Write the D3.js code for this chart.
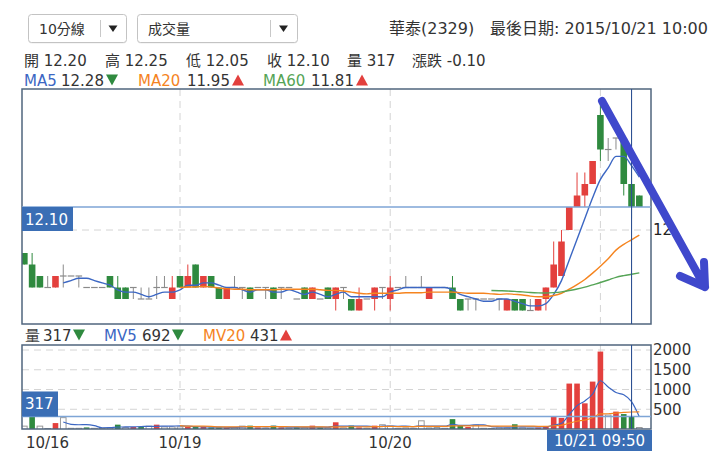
<!DOCTYPE html>
<html>
<head>
<meta charset="utf-8">
<script src="https://cdn.jsdelivr.net/npm/d3@7"></script>
<style>
  body { margin: 0; background: #fff; }
  svg { display: block; font-family: "DejaVu Sans", "Noto Sans CJK TC", sans-serif; }
</style>
</head>
<body>
<svg id="chart" width="720" height="462"></svg>
<script>
// ----------------------- DATA (10 min bars, 華泰 2329) -------------------------------
var days = ["10/16", "10/19", "10/20", "10/21"];
var dayStart = [-7, 20, 47, 74];          // bar index of the first bar of each day

var opens = [11.90,11.85,11.80,11.75,11.75,11.80,11.80,11.80,11.75,11.75,
             11.75,11.80,11.75,11.75,11.75,11.70,11.70,11.75,11.75,11.70,
             11.80,11.75,11.85,11.75,11.80,11.75,11.70,11.75,11.75,11.75,
             11.75,11.75,11.75,11.75,11.75,11.70,11.75,11.70,11.70,11.75,
             11.70,11.75,11.70,11.65,11.70,11.70,11.75,11.70,11.75,11.75,
             11.75,11.75,11.70,11.75,11.75,11.75,11.70,11.70,11.70,11.70,
             11.70,11.70,11.65,11.70,11.70,11.65,11.65,11.70,11.75,11.80,
             12.00,12.10,12.15,12.20,12.50,12.35,12.40,12.40,12.20,12.15];
var highs = [11.90,11.90,11.80,11.80,11.80,11.85,11.80,11.80,11.75,11.75,
             11.75,11.80,11.80,11.75,11.75,11.75,11.75,11.80,11.80,11.80,
             11.80,11.85,11.85,11.80,11.80,11.75,11.75,11.80,11.75,11.75,
             11.75,11.75,11.75,11.75,11.75,11.70,11.75,11.75,11.70,11.75,
             11.75,11.75,11.70,11.75,11.70,11.75,11.75,11.80,11.75,11.80,
             11.75,11.80,11.75,11.75,11.75,11.80,11.70,11.70,11.70,11.70,
             11.70,11.70,11.70,11.70,11.70,11.70,11.70,11.75,11.95,12.00,
             12.10,12.25,12.25,12.30,12.55,12.40,12.40,12.40,12.25,12.15];
var lows = [11.85,11.75,11.75,11.75,11.75,11.75,11.80,11.75,11.75,11.75,
            11.75,11.75,11.70,11.70,11.70,11.70,11.70,11.70,11.75,11.70,
            11.75,11.75,11.75,11.75,11.75,11.70,11.70,11.75,11.70,11.70,
            11.75,11.70,11.70,11.70,11.75,11.70,11.70,11.70,11.70,11.70,
            11.65,11.70,11.65,11.65,11.70,11.65,11.70,11.65,11.75,11.75,
            11.75,11.75,11.70,11.75,11.75,11.70,11.65,11.65,11.65,11.70,
            11.70,11.65,11.65,11.65,11.65,11.65,11.65,11.65,11.75,11.80,
            12.00,12.10,12.10,12.20,12.30,12.30,12.35,12.15,12.05,12.10];
var closes = [11.85,11.75,11.75,11.75,11.80,11.80,11.80,11.80,11.75,11.75,
              11.75,11.75,11.70,11.70,11.75,11.70,11.70,11.75,11.75,11.75,
              11.75,11.80,11.75,11.80,11.75,11.70,11.75,11.75,11.75,11.70,
              11.75,11.75,11.70,11.75,11.75,11.70,11.70,11.75,11.70,11.70,
              11.75,11.75,11.65,11.70,11.70,11.75,11.75,11.75,11.75,11.75,
              11.75,11.75,11.75,11.75,11.75,11.70,11.65,11.70,11.70,11.70,
              11.70,11.70,11.70,11.65,11.65,11.65,11.70,11.75,11.85,11.95,
              12.10,12.15,12.20,12.30,12.35,12.35,12.40,12.20,12.10,12.10];
var volumes = [85,320,85,25,150,300,30,30,40,30,
               30,40,110,50,50,50,85,110,65,65,
               65,50,50,50,40,40,40,40,85,85,
               40,30,85,40,30,40,40,85,40,40,
               170,40,85,40,30,85,120,85,30,40,
               30,220,40,50,30,250,85,50,110,30,
               25,40,35,120,40,30,35,55,320,280,
               1150,1150,650,1200,1960,365,440,378,317,50];

var priceTicks = [12];
var volumeTicks = [500, 1000, 1500, 2000];
var cursorIndex = 78;
var cursorTime = "10/21 09:50";

var infoItems = [["開 12.20", 24], ["高 12.25", 105], ["低 12.05", 186], ["收 12.10", 267], ["量 317", 347], ["漲跌 -0.10", 412]];
var maLabels = ["MA5", "MA20", "MA60"];
var maValues = ["12.28", "11.95", "11.81"];
var maDirs = ["down", "up", "up"];
var mvLabels = ["量", "MV5", "MV20"];
var mvValues = ["317", "692", "431"];
var mvDirs = ["down", "down", "up"];

// ----------------------- LAYOUT -------------------------------
var svg = d3.select("#chart"),
    left = 22, right = 651,
    mainTop = 89, mainBottom = 324,
    volTop = 345, volBottom = 429,
    tagLeft = 547;

var RED = "#e3403d", GREEN = "#2f8a3f", GRAY = "#8a8a8a",
    C_MA5 = "#3c67c3", C_MA20 = "#f5841f", C_MA60 = "#55a456",
    BORDER = "#50657e", GRID = "#d4d4d4", CURSOR = "#2d5192", CURSOR_H = "#7ea5d6", TAG = "#3a6eb5";

var x = d3.scaleLinear().domain([-0.3, 80.5]).range([left, right]);
var y = d3.scaleLinear().domain([11.6, 12.6]).range([322, 92]);
var yv = d3.scaleLinear().domain([0, 2000]).range([volBottom, 350]);

var bars = closes.map(function(c, i) {
  return {i: i, o: opens[i], h: highs[i], l: lows[i], c: c, v: volumes[i], prev: i > 0 ? closes[i - 1] : c};
});

function movingAvg(arr, n) {
  return arr.map(function(d, i) {
    if (i < n) return null;
    return d3.mean(arr.slice(i - n + 1, i + 1));
  });
}
function candleColor(d) { return d.c > d.o ? RED : d.c < d.o ? GREEN : GRAY; }
function volColor(d) { return d.c > d.prev ? RED : d.c < d.prev ? GREEN : null; }

var defs = svg.append("defs");
defs.append("clipPath").attr("id", "clipMain").append("rect")
    .attr("x", left).attr("y", mainTop).attr("width", right - left).attr("height", mainBottom - mainTop);
defs.append("clipPath").attr("id", "clipVol").append("rect")
    .attr("x", left).attr("y", volTop).attr("width", right - left).attr("height", volBottom - volTop);

// ----------------------- HEADER -------------------------------
function dropdown(x0, w, sep, label) {
  var g = svg.append("g");
  g.append("rect").attr("x", x0 + 0.5).attr("y", 15.5).attr("width", w).attr("height", 28).attr("rx", 3)
      .attr("fill", "#ececec");
  g.append("rect").attr("x", x0 + 0.5).attr("y", 14.5).attr("width", w).attr("height", 28).attr("rx", 3)
      .attr("fill", "#fff").attr("stroke", "#c3c3c3");
  g.append("text").attr("x", x0 + 11).attr("y", 34).attr("font-size", 14).attr("fill", "#333").text(label);
  g.append("line").attr("x1", sep + 0.5).attr("x2", sep + 0.5).attr("y1", 20).attr("y2", 37).attr("stroke", "#c8c8c8");
  var cx = sep + 11 + (x0 + w - sep - 22) / 2;
  g.append("path").attr("d", "M" + (cx - 4.5) + ",25.5L" + (cx + 4.5) + ",25.5L" + cx + ",32z").attr("fill", "#222");
}
dropdown(28, 98, 100, "10分線");
dropdown(137, 160, 270, "成交量");

svg.append("text").attr("x", 389).attr("y", 34).attr("font-size", 16).attr("fill", "#333").text("華泰(2329)");
svg.append("text").attr("x", 490).attr("y", 34).attr("font-size", 16).attr("fill", "#333").text("最後日期: 2015/10/21 10:00");

svg.append("g").selectAll("text").data(infoItems).enter().append("text")
    .attr("x", function(d) { return d[1]; })
    .attr("y", 65.5)
    .attr("font-size", 15)
    .attr("fill", "#333")
    .text(function(d) { return d[0]; });

function triangle(cx, cy, dir) {
  var w = 6, h = 5.5;
  if (dir === "up") return "M" + (cx - w) + "," + (cy + h) + "L" + (cx + w) + "," + (cy + h) + "L" + cx + "," + (cy - h) + "z";
  return "M" + (cx - w) + "," + (cy - h) + "L" + (cx + w) + "," + (cy - h) + "L" + cx + "," + (cy + h) + "z";
}

function legendRow(yBase, labels, values, dirs, colors, xs) {
  var g = svg.append("g").attr("font-size", 15);
  labels.forEach(function(lab, k) {
    var p = xs[k];
    g.append("text").attr("x", p[0]).attr("y", yBase).attr("fill", colors[k]).text(lab);
    g.append("text").attr("x", p[1]).attr("y", yBase).attr("fill", "#333").text(values[k]);
    g.append("path").attr("d", triangle(p[2], yBase - 5.5, dirs[k]))
        .attr("fill", dirs[k] === "up" ? RED : GREEN);
  });
}
legendRow(85.5, maLabels, maValues, maDirs, [C_MA5, C_MA20, C_MA60],
          [[24, 61, 112], [138, 187, 238], [263, 311, 362]]);
legendRow(340.5, mvLabels, mvValues, mvDirs, ["#444", C_MA5, C_MA20],
          [[25, 43, 79], [104, 142, 178], [203, 250, 286]]);

// ----------------------- GRIDS -------------------------------
var insideDays = dayStart.filter(function(d) { return x(d) > left; });

[[mainTop, mainBottom], [volTop, volBottom]].forEach(function(p) {
  svg.append("g").selectAll("line").data(insideDays).enter().append("line")
      .attr("x1", function(d) { return x(d); }).attr("x2", function(d) { return x(d); })
      .attr("y1", p[0]).attr("y2", p[1])
      .attr("stroke", GRID).attr("stroke-dasharray", "7,5");
});

svg.append("g").selectAll("line").data(priceTicks).enter().append("line")
    .attr("x1", left).attr("x2", right)
    .attr("y1", function(d) { return y(d); }).attr("y2", function(d) { return y(d); })
    .attr("stroke", GRID).attr("stroke-dasharray", "7,5");

svg.append("g").selectAll("line").data(volumeTicks).enter().append("line")
    .attr("x1", left).attr("x2", right)
    .attr("y1", function(d) { return yv(d); }).attr("y2", function(d) { return yv(d); })
    .attr("stroke", GRID).attr("stroke-dasharray", "7,5");

// right axes
svg.append("g")
    .attr("transform", "translate(" + right + ",0)")
    .call(d3.axisRight(y).tickValues(priceTicks).tickSize(0).tickPadding(2).tickFormat(d3.format("d")))
    .call(function(g) { g.select(".domain").remove(); })
    .selectAll("text").attr("font-size", 15).attr("font-family", "DejaVu Sans").attr("fill", "#222");

svg.append("g")
    .attr("transform", "translate(" + right + ",0)")
    .call(d3.axisRight(yv).tickValues(volumeTicks).tickSize(0).tickPadding(2).tickFormat(d3.format("d")))
    .call(function(g) { g.select(".domain").remove(); })
    .selectAll("text").attr("font-size", 15).attr("font-family", "DejaVu Sans").attr("fill", "#333");

// ----------------------- CANDLES -------------------------------
var main = svg.append("g").attr("clip-path", "url(#clipMain)");
var bw = 6.6;

main.append("g").selectAll("line").data(bars).enter().append("line")
    .attr("x1", function(d) { return x(d.i); }).attr("x2", function(d) { return x(d.i); })
    .attr("y1", function(d) { return y(d.h); }).attr("y2", function(d) { return y(d.l); })
    .attr("stroke", candleColor).attr("stroke-width", 1);

main.append("g").selectAll("rect").data(bars.filter(function(d) { return d.o !== d.c; })).enter().append("rect")
    .attr("x", function(d) { return x(d.i) - bw / 2; })
    .attr("y", function(d) { return y(Math.max(d.o, d.c)); })
    .attr("width", bw)
    .attr("height", function(d) { return y(Math.min(d.o, d.c)) - y(Math.max(d.o, d.c)); })
    .attr("fill", candleColor);

main.append("g").selectAll("line").data(bars.filter(function(d) { return d.o === d.c; })).enter().append("line")
    .attr("x1", function(d) { return x(d.i) - bw / 2; }).attr("x2", function(d) { return x(d.i) + bw / 2; })
    .attr("y1", function(d) { return y(d.c); }).attr("y2", function(d) { return y(d.c); })
    .attr("stroke", GRAY).attr("stroke-width", 1.2);

// moving averages
var maLine = function(scale) {
  return d3.line()
    .defined(function(d) { return d != null; })
    .x(function(d, i) { return x(i); })
    .y(function(d) { return scale(d); })
    .curve(d3.curveMonotoneX);
};
[[5, C_MA5], [20, C_MA20], [60, C_MA60]].forEach(function(m) {
  main.append("path")
      .attr("d", maLine(y)(movingAvg(closes, m[0])))
      .attr("fill", "none").attr("stroke", m[1]).attr("stroke-width", 1.4);
});

// ----------------------- VOLUME -------------------------------
var vol = svg.append("g").attr("clip-path", "url(#clipVol)");

vol.append("g").selectAll("rect").data(bars).enter().append("rect")
    .attr("x", function(d) { return x(d.i) - bw / 2 + 0.5; })
    .attr("y", function(d) { return yv(d.v) + (volColor(d) ? 0 : 0.5); })
    .attr("width", bw - 1)
    .attr("height", function(d) { return yv(0) - yv(d.v); })
    .attr("fill", function(d) { return volColor(d) || "#fff"; })
    .attr("stroke", function(d) { return volColor(d) || "#999"; })
    .attr("stroke-width", function(d) { return volColor(d) ? 0 : 1; });

[[5, C_MA5], [20, C_MA20]].forEach(function(m) {
  vol.append("path")
      .attr("d", maLine(yv)(movingAvg(volumes, m[0])))
      .attr("fill", "none").attr("stroke", m[1]).attr("stroke-width", 1.2);
});

// ----------------------- FRAMES -------------------------------
svg.append("rect").attr("x", left).attr("y", mainTop).attr("width", right - left).attr("height", mainBottom - mainTop)
    .attr("fill", "none").attr("stroke", BORDER).attr("stroke-width", 1.5);
svg.append("rect").attr("x", left).attr("y", volTop).attr("width", right - left).attr("height", volBottom - volTop)
    .attr("fill", "none").attr("stroke", BORDER).attr("stroke-width", 1.5);

// x axis day labels (first one clamped to the panel, the one under the time tag left out)
var dayTicks = days.map(function(d, k) { return {label: d, px: Math.max(x(dayStart[k]), left + 25.5)}; })
    .filter(function(d) { return d.px + 25 < tagLeft; });

svg.append("g").attr("font-size", 15).attr("fill", "#333")
  .selectAll("text").data(dayTicks).enter().append("text")
    .attr("x", function(d) { return d.px; })
    .attr("y", 447.5)
    .attr("text-anchor", "middle")
    .text(function(d) { return d.label; });

// ----------------------- CROSSHAIR -------------------------------
var cur = bars[cursorIndex];
var cx = x(cursorIndex);

svg.append("line").attr("x1", left).attr("x2", right).attr("y1", y(cur.c)).attr("y2", y(cur.c))
    .attr("stroke", CURSOR_H).attr("stroke-width", 1.6);
svg.append("line").attr("x1", left).attr("x2", right).attr("y1", yv(cur.v)).attr("y2", yv(cur.v))
    .attr("stroke", CURSOR_H).attr("stroke-width", 1.6);
[[mainTop, mainBottom], [volTop, volBottom]].forEach(function(p) {
  svg.append("line").attr("x1", cx).attr("x2", cx).attr("y1", p[0]).attr("y2", p[1])
      .attr("stroke", CURSOR).attr("stroke-width", 1.1);
});

// price tag
svg.append("rect").attr("x", left).attr("y", y(cur.c)).attr("width", 51).attr("height", 24).attr("fill", TAG);
svg.append("text").attr("x", left + 3).attr("y", y(cur.c) + 17.5).attr("font-size", 15).attr("fill", "#fff")
    .text(d3.format(".2f")(cur.c));
// volume tag (flipped above the line near the bottom)
svg.append("rect").attr("x", left).attr("y", yv(cur.v) - 25).attr("width", 36).attr("height", 25).attr("fill", TAG);
svg.append("text").attr("x", left + 3).attr("y", yv(cur.v) - 7).attr("font-size", 15).attr("fill", "#fff")
    .text(cur.v);
// time tag
svg.append("rect").attr("x", tagLeft).attr("y", 430).attr("width", right + 1 - tagLeft).attr("height", 21).attr("fill", TAG);
svg.append("text").attr("x", (tagLeft + right + 1) / 2).attr("y", 446).attr("text-anchor", "middle")
    .attr("font-size", 15).attr("fill", "#fff").text(cursorTime);

// ----------------------- HAND DRAWN ARROW -------------------------------
svg.append("path")
    .attr("d", "M602,101L705,287M680,276L705,287L704,262")
    .attr("fill", "none").attr("stroke", "#3f48cc").attr("stroke-width", 8)
    .attr("stroke-linecap", "round").attr("stroke-linejoin", "round");
</script>
</body>
</html>
